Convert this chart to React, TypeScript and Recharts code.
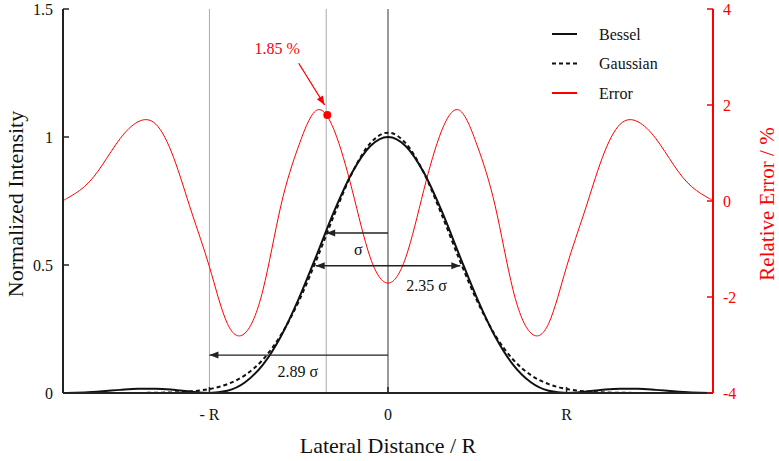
import { LineChart, Line, XAxis, YAxis, ReferenceLine, ReferenceDot } from "recharts";

// lateral position in units of R (first zero of the Airy pattern)
const positions = [
  -1.82, -1.8, -1.7, -1.6, -1.5, -1.4, -1.3, -1.2, -1.1, -1.0, -0.9, -0.8, -0.7, -0.6, -0.5, -0.4, -0.3, -0.2, -0.1,
  0,
  0.1, 0.2, 0.3, 0.4, 0.5, 0.6, 0.7, 0.8, 0.9, 1.0, 1.1, 1.2, 1.3, 1.4, 1.5, 1.6, 1.7, 1.8, 1.82,
];

const bessel = [
  0, 0.0001, 0.0021, 0.0065, 0.0122, 0.0165, 0.017, 0.0124, 0.0046, 0, 0.0085, 0.042, 0.111, 0.221, 0.368, 0.538, 0.712, 0.862, 0.964,
  1,
  0.964, 0.862, 0.712, 0.538, 0.368, 0.221, 0.111, 0.042, 0.0085, 0, 0.0046, 0.0124, 0.017, 0.0165, 0.0122, 0.0065, 0.0021, 0.0001, 0,
];

const gaussian = [
  0, 0, 0, 0, 0.0001, 0.0003, 0.0009, 0.0025, 0.0065, 0.0156, 0.0345, 0.07, 0.131, 0.226, 0.358, 0.521, 0.698, 0.861, 0.975,
  1.017,
  0.975, 0.861, 0.698, 0.521, 0.358, 0.226, 0.131, 0.07, 0.0345, 0.0156, 0.0065, 0.0025, 0.0009, 0.0003, 0.0001, 0, 0, 0, 0,
];

// relative error in %
const relError = [
  0, 0.05, 0.3, 0.75, 1.3, 1.65, 1.6, 0.9, -0.23, -1.37, -2.55, -2.75, -1.85, -0.1, 1.15, 1.89, 1.46, 0.22, -1.17,
  -1.71,
  -1.17, 0.22, 1.46, 1.89, 1.15, -0.1, -1.85, -2.75, -2.55, -1.37, -0.23, 0.9, 1.6, 1.65, 1.3, 0.75, 0.3, 0.05, 0,
];

const xTicks = [-1, 0, 1];
const xTickLabels = ["- R", "0", "R"];
const leftTicks = [0, 0.5, 1, 1.5];
const rightTicks = [-4, -2, 0, 2, 4];

const sigma = 0.346;
const halfWidth = 0.405;
const markedError = 1.79;

const rows = positions.map((x, i) => ({
  x,
  bessel: bessel[i],
  gaussian: gaussian[i],
  error: relError[i],
}));

const FONT = "Liberation Serif, DejaVu Serif, serif";
const RED = "#ff0000";

function arrow(color: string, both = false) {
  return (props: any) => {
    const { x1, y1, x2, y2 } = props;
    const head = (tx: number, ty: number, fx: number, fy: number) => {
      const a = Math.atan2(ty - fy, tx - fx);
      const len = 9;
      const w = 3.5;
      const bx = tx - len * Math.cos(a);
      const by = ty - len * Math.sin(a);
      const px = -Math.sin(a) * w;
      const py = Math.cos(a) * w;
      return (
        <polygon
          points={`${tx},${ty} ${bx + px},${by + py} ${bx - px},${by - py}`}
          fill={color}
        />
      );
    };
    return (
      <g>
        <line x1={x1} y1={y1} x2={x2} y2={y2} stroke={color} strokeWidth={1.3} />
        {head(x2, y2, x1, y1)}
        {both && head(x1, y1, x2, y2)}
      </g>
    );
  };
}

function textAt(value: string, color = "#111") {
  return (props: any) => (
    <text
      x={props.cx}
      y={props.cy}
      textAnchor="middle"
      dominantBaseline="central"
      fontSize={16}
      style={{ fontFamily: FONT }}
      fill={color}
    >
      {value}
    </text>
  );
}

const legendItems = [
  { label: "Bessel", color: "#111", dash: undefined },
  { label: "Gaussian", color: "#111", dash: "4 3" },
  { label: "Error", color: RED, dash: undefined },
];

const tickFont = { fontSize: 16, fontFamily: FONT };

export default function App() {
  return (
    <div
      style={{
        position: "absolute",
        left: 0,
        top: 0,
        width: 779,
        height: 461,
        background: "#fff",
        fontFamily: FONT,
      }}
    >
      <LineChart
        width={779}
        height={461}
        data={rows}
        margin={{ top: 9, right: 0, bottom: 0, left: 0 }}
        style={{ fontFamily: FONT }}
      >
        <XAxis
          dataKey="x"
          type="number"
          domain={[-1.82, 1.82]}
          allowDataOverflow
          ticks={xTicks}
          tickFormatter={(v: number) => xTickLabels[xTicks.indexOf(v)] ?? ""}
          height={68}
          tickSize={-6}
          tickMargin={22}
          axisLine={{ stroke: "#222", strokeWidth: 2 }}
          tickLine={{ stroke: "#222", strokeWidth: 1.5 }}
          tick={{ fill: "#111", ...tickFont }}
        />
        <XAxis
          xAxisId="top"
          orientation="top"
          type="number"
          domain={[-1.82, 1.82]}
          allowDataOverflow
          ticks={xTicks}
          height={0}
          tickSize={-6}
          tick={false}
          axisLine={{ stroke: "#444", strokeWidth: 2 }}
          tickLine={{ stroke: "#222", strokeWidth: 1.5 }}
        />
        <YAxis
          yAxisId="left"
          domain={[0, 1.5]}
          ticks={leftTicks}
          width={63}
          tickSize={-6}
          tickMargin={16}
          axisLine={{ stroke: "#222", strokeWidth: 2 }}
          tickLine={{ stroke: "#222", strokeWidth: 1.5 }}
          tick={{ fill: "#111", ...tickFont }}
        />
        <YAxis
          yAxisId="right"
          orientation="right"
          domain={[-4, 4]}
          ticks={rightTicks}
          width={66}
          tickSize={-6}
          tickMargin={16}
          axisLine={{ stroke: RED, strokeWidth: 2 }}
          tickLine={{ stroke: RED, strokeWidth: 1.5 }}
          tick={{ fill: RED, ...tickFont, textAnchor: "start" }}
        />

        <ReferenceLine yAxisId="left" x={-1} stroke="#aaa" strokeWidth={1} />
        <ReferenceLine yAxisId="left" x={-sigma} stroke="#aaa" strokeWidth={1} />
        <ReferenceLine yAxisId="left" x={0} stroke="#555" strokeWidth={1.2} />

        <Line
          yAxisId="right"
          dataKey="error"
          type="natural"
          stroke={RED}
          strokeWidth={1}
          dot={false}
          activeDot={false}
          isAnimationActive={false}
        />
        <Line
          yAxisId="left"
          dataKey="gaussian"
          type="monotone"
          stroke="#111"
          strokeWidth={2}
          strokeDasharray="4 3"
          dot={false}
          activeDot={false}
          isAnimationActive={false}
        />
        <Line
          yAxisId="left"
          dataKey="bessel"
          type="monotone"
          stroke="#111"
          strokeWidth={2}
          dot={false}
          activeDot={false}
          isAnimationActive={false}
        />

        <ReferenceLine
          yAxisId="left"
          segment={[{ x: 0, y: 0.625 }, { x: -sigma, y: 0.625 }]}
          shape={arrow("#222")}
        />
        <ReferenceLine
          yAxisId="left"
          segment={[{ x: -halfWidth, y: 0.497 }, { x: halfWidth, y: 0.497 }]}
          shape={arrow("#222", true)}
        />
        <ReferenceLine
          yAxisId="left"
          segment={[{ x: 0, y: 0.148 }, { x: -1, y: 0.148 }]}
          shape={arrow("#222")}
        />
        <ReferenceLine
          yAxisId="right"
          segment={[{ x: -0.5, y: 2.87 }, { x: -0.355, y: 2.0 }]}
          shape={arrow(RED)}
        />

        <ReferenceDot yAxisId="left" x={-0.166} y={0.5625} shape={textAt("σ")} />
        <ReferenceDot yAxisId="left" x={0.216} y={0.418} shape={textAt("2.35 σ")} />
        <ReferenceDot yAxisId="left" x={-0.505} y={0.083} shape={textAt("2.89 σ")} />
        <ReferenceDot yAxisId="right" x={-0.62} y={3.17} shape={textAt("1.85 %", RED)} />
        <ReferenceDot
          yAxisId="right"
          x={-0.34}
          y={markedError}
          r={4}
          fill={RED}
          stroke="none"
        />
      </LineChart>

      <svg
        width={779}
        height={461}
        style={{ position: "absolute", left: 0, top: 0, pointerEvents: "none", fontFamily: FONT }}
      >
        {legendItems.map((item, i) => {
          const y = 34 + i * 29.5;
          return (
            <g key={item.label}>
              <line
                x1={552}
                x2={577}
                y1={y}
                y2={y}
                stroke={item.color}
                strokeWidth={2}
                strokeDasharray={item.dash}
              />
              <text x={599} y={y} dominantBaseline="central" fontSize={16} fill="#111">
                {item.label}
              </text>
            </g>
          );
        })}
        <text
          transform="translate(15,204) rotate(-90)"
          textAnchor="middle"
          dominantBaseline="central"
          fontSize={22}
          fill="#111"
        >
          Normalized Intensity
        </text>
        <text
          transform="translate(767,204) rotate(-90)"
          textAnchor="middle"
          dominantBaseline="central"
          fontSize={21}
          fill={RED}
        >
          Relative Error / %
        </text>
        <text
          x={388}
          y={445}
          textAnchor="middle"
          dominantBaseline="central"
          fontSize={22}
          fill="#111"
        >
          Lateral Distance / R
        </text>
      </svg>
    </div>
  );
}
